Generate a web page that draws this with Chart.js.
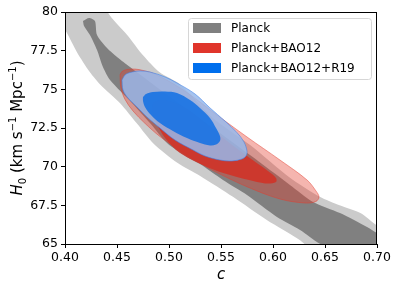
<!DOCTYPE html>
<html>
<head>
<meta charset="utf-8">
<script src="https://cdn.jsdelivr.net/npm/chart.js@4/dist/chart.umd.min.js"></script>
<style>
  html, body { margin: 0; padding: 0; background: #fff; }
  #wrap { width: 399px; height: 291px; }
</style>
</head>
<body>
<div id="wrap"><canvas id="chart"></canvas></div>
<script>
// tick labels
const xTicks = [0.40, 0.45, 0.50, 0.55, 0.60, 0.65, 0.70];
const yTicks = [65, 67.5, 70, 72.5, 75, 77.5, 80];
const seriesNames = ['Planck', 'Planck+BAO12', 'Planck+BAO12+R19'];

// contour outlines, [c, H0]
const planck95 = [
    [0.390, 80.8], [0.443, 80.8], [0.441, 80.0], [0.460, 78.5], [0.475, 77.2],
    [0.491, 76.1], [0.511, 75.3], [0.542, 73.15], [0.578, 71.4], [0.616, 69.3],
    [0.645, 68.05], [0.664, 67.5], [0.684, 67.0], [0.700, 66.2], [0.715, 65.7],
    [0.720, 63.8], [0.645, 64.2], [0.626, 65.25], [0.594, 66.55], [0.5615, 68.05],
    [0.530, 69.4], [0.508, 70.25], [0.485, 71.5], [0.469, 72.8], [0.453, 74.1],
    [0.434, 75.3], [0.424, 76.1], [0.4115, 77.4], [0.400, 78.85], [0.390, 79.6]
];
const planck68 = [
    [0.4173, 79.42], [0.4231, 79.61], [0.4288, 79.42], [0.4308, 78.51], [0.4404, 77.67],
    [0.4500, 77.09], [0.4625, 76.44], [0.5010, 74.50], [0.5423, 72.50], [0.5779, 70.75],
    [0.6163, 68.82], [0.6385, 67.72], [0.6644, 67.00], [0.6904, 66.10], [0.7000, 65.71],
    [0.7173, 65.26], [0.7173, 64.29], [0.6500, 64.87], [0.6260, 65.91], [0.6038, 66.75],
    [0.5750, 68.17], [0.5519, 69.14], [0.5298, 70.17], [0.5173, 70.63], [0.4981, 71.53],
    [0.4817, 72.82], [0.4644, 74.12], [0.4433, 75.60], [0.4365, 76.44], [0.4308, 77.54],
    [0.4240, 78.51], [0.4183, 79.09]
];
const bao95 = [
    [0.4529, 75.93], [0.4548, 76.15], [0.4596, 76.28], [0.4673, 76.31], [0.4750, 76.22],
    [0.4865, 75.99], [0.5106, 75.09], [0.5298, 74.18], [0.5423, 73.53], [0.5750, 71.92],
    [0.6067, 70.43], [0.6327, 69.14], [0.6413, 68.43], [0.6442, 68.04], [0.6413, 67.75],
    [0.6308, 67.65], [0.6067, 67.91], [0.5750, 68.70], [0.5423, 69.75], [0.5298, 70.25],
    [0.5106, 71.05], [0.4913, 71.95], [0.4769, 72.80], [0.4654, 73.60], [0.4577, 74.35],
    [0.4538, 75.09]
];
const bao68 = [
    [0.4846, 74.12], [0.4894, 74.28], [0.4981, 74.28], [0.5106, 73.99], [0.5231, 73.47],
    [0.5462, 72.18], [0.5750, 70.69], [0.5952, 69.72], [0.6029, 69.27], [0.6029, 69.01],
    [0.5952, 68.91], [0.5846, 69.01], [0.5587, 69.46], [0.5365, 69.98], [0.5106, 70.88],
    [0.4962, 71.85], [0.4875, 72.89], [0.4837, 73.66]
];
const r19_95 = [
    [0.4548, 75.60], [0.4577, 75.93], [0.4625, 76.09], [0.4721, 76.19], [0.4817, 76.12],
    [0.4962, 75.80], [0.5077, 75.41], [0.5250, 74.70], [0.5394, 73.80], [0.5538, 72.95],
    [0.5654, 72.20], [0.5721, 71.60], [0.5750, 71.00], [0.5740, 70.69], [0.5702, 70.50],
    [0.5606, 70.37], [0.5490, 70.43], [0.5346, 70.69], [0.5231, 71.08], [0.5058, 71.72],
    [0.4913, 72.50], [0.4788, 73.21], [0.4692, 73.86], [0.4606, 74.44], [0.4558, 74.96]
];
const r19_68 = [
    [0.4750, 74.50], [0.4779, 74.70], [0.4846, 74.83], [0.4962, 74.86], [0.5077, 74.76],
    [0.5202, 74.31], [0.5298, 73.79], [0.5394, 73.15], [0.5452, 72.50], [0.5490, 71.98],
    [0.5490, 71.66], [0.5452, 71.43], [0.5394, 71.37], [0.5298, 71.53], [0.5173, 71.85],
    [0.5038, 72.31], [0.4913, 72.82], [0.4827, 73.34], [0.4769, 73.86], [0.4750, 74.25]
];

const legendColors = ['#808080', '#e0352b', '#006fed'];
const FONT = 'DejaVu Sans';

function closed(arr) {
    const pts = arr.map(p => ({ x: p[0], y: p[1] }));
    pts.push({ x: arr[0][0], y: arr[0][1] });
    return pts;
}

// order: higher number is drawn first (further back)
function contour(arr, fillColor, lineColor, tension, order) {
    return {
        data: closed(arr),
        backgroundColor: fillColor,
        borderColor: lineColor || 'rgba(0,0,0,0)',
        borderWidth: lineColor ? 0.8 : 0,
        fill: 'shape',
        pointRadius: 0,
        tension: tension,
        order: order,
    };
}

// frame, axis titles and legend box
const extras = {
    id: 'extras',
    afterDraw(chart) {
        const ctx = chart.ctx;
        const a = chart.chartArea;
        ctx.save();
        ctx.strokeStyle = '#000';
        ctx.lineWidth = 1;
        ctx.strokeRect(a.left + 0.5, a.top + 0.5, a.right - a.left - 1, a.bottom - a.top);

        // x title
        ctx.fillStyle = '#000';
        ctx.font = 'italic 15px ' + FONT;
        ctx.textAlign = 'center';
        ctx.textBaseline = 'middle';
        ctx.fillText('c', (a.left + a.right) / 2, 275);

        // y title with sub/superscripts
        const parts = [
            ['H', 'italic 15px', 0], ['0', '10px', 4], [' (km s', '15px', 0], ['\u22121', '10px', -6],
            [' Mpc', '15px', 0], ['\u22121', '10px', -6], [')', '15px', 0]
        ];
        let total = 0;
        parts.forEach(p => { ctx.font = p[1] + ' ' + FONT; total += ctx.measureText(p[0]).width; });
        ctx.translate(17, (a.top + a.bottom) / 2);
        ctx.rotate(-Math.PI / 2);
        ctx.textAlign = 'left';
        ctx.textBaseline = 'alphabetic';
        let x = -total / 2;
        parts.forEach(p => {
            ctx.font = p[1] + ' ' + FONT;
            ctx.fillText(p[0], x, 5 + p[2]);
            x += ctx.measureText(p[0]).width;
        });
        ctx.restore();

        // legend
        ctx.save();
        const lx = a.right - 189, ly = a.top + 6, lw = 183, lh = 61;
        ctx.beginPath();
        ctx.roundRect(lx + 0.5, ly + 0.5, lw, lh, 3);
        ctx.fillStyle = 'rgba(255,255,255,0.8)';
        ctx.fill();
        ctx.strokeStyle = '#d6d6d6';
        ctx.stroke();
        ctx.font = '12px ' + FONT;
        ctx.textBaseline = 'middle';
        seriesNames.forEach((name, i) => {
            const cy = ly + 10 + i * 20;
            ctx.fillStyle = legendColors[i];
            ctx.fillRect(lx + 5, cy - 5, 28, 10);
            ctx.fillStyle = '#000';
            ctx.fillText(name, lx + 43, cy + 1);
        });
        ctx.restore();
    }
};

new Chart(document.getElementById('chart'), {
    type: 'line',
    data: {
        datasets: [
            contour(planck95, '#cbcbcb', null, 0.25, 6),
            contour(planck68, '#808080', null, 0.25, 5),
            contour(bao95, 'rgba(228,60,45,0.38)', 'rgba(228,60,45,0.6)', 0.35, 4),
            contour(bao68, 'rgba(214,45,32,0.8)', null, 0.35, 3),
            contour(r19_95, 'rgba(150,185,235,0.85)', 'rgba(60,130,235,0.7)', 0.35, 2),
            contour(r19_68, 'rgba(15,110,228,0.85)', null, 0.35, 1),
        ],
    },
    options: {
        animation: false,
        responsive: true,
        maintainAspectRatio: false,
        layout: { padding: { top: 12, right: 22, left: 0, bottom: 0 } },
        plugins: { legend: { display: false }, tooltip: { enabled: false } },
        scales: {
            x: {
                type: 'linear',
                min: 0.40,
                max: 0.70,
                afterBuildTicks: s => { s.ticks = xTicks.map(v => ({ value: v })); },
                afterFit: s => { s.height = 47; },
                ticks: {
                    color: '#000',
                    font: { family: FONT, size: 12.5 },
                    padding: 2,
                    maxRotation: 0,
                    callback: v => v.toFixed(2),
                },
                grid: { drawOnChartArea: false, drawTicks: true, tickLength: 4, color: '#000' },
                border: { color: '#000' },
            },
            y: {
                type: 'linear',
                min: 65,
                max: 80,
                afterBuildTicks: s => { s.ticks = yTicks.map(v => ({ value: v })); },
                afterFit: s => { s.width = 65; },
                ticks: {
                    color: '#000',
                    font: { family: FONT, size: 12.5 },
                    padding: 3,
                    callback: v => String(v),
                },
                grid: { drawOnChartArea: false, drawTicks: true, tickLength: 4, color: '#000' },
                border: { color: '#000' },
            },
        },
    },
    plugins: [extras],
});
</script>
</body>
</html>
